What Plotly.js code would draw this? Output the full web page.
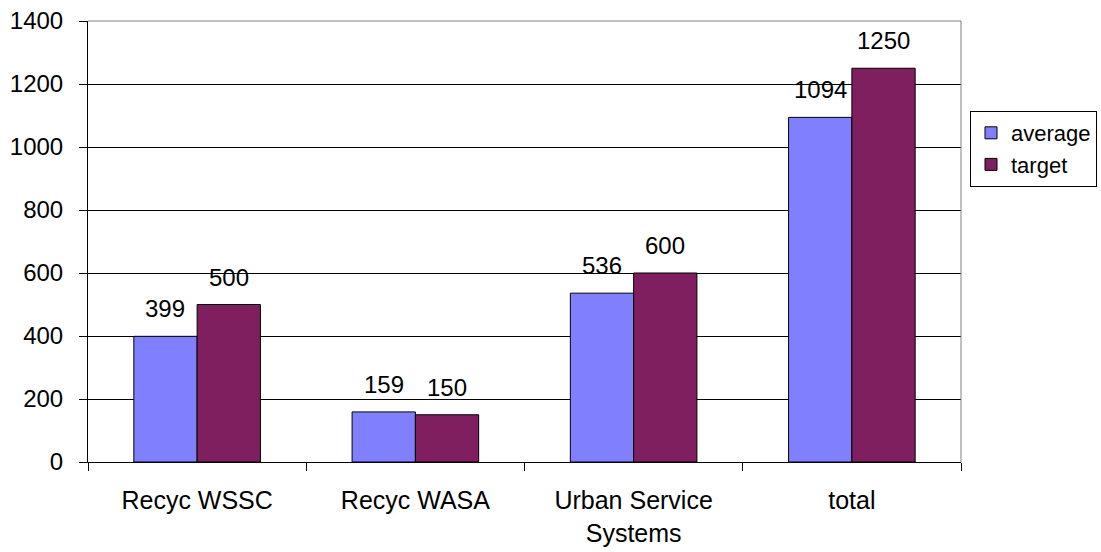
<!DOCTYPE html>
<html>
<head>
<meta charset="utf-8">
<script src="https://cdn.plot.ly/plotly-3.0.1.min.js"></script>
<style>html,body{margin:0;padding:0;background:#fff;}#chart{width:1101px;height:552px;}</style>
</head>
<body>
<div id="chart"></div>
<script>
const categories = ["Recyc WSSC", "Recyc WASA", "Urban Service<br>Systems", "total"];
const averageValues = [399, 159, 536, 1094];
const targetValues = [500, 150, 600, 1250];
const seriesNames = ["average", "target"];
const yTickValues = [0, 200, 400, 600, 800, 1000, 1200, 1400];

const FONT = "Liberation Sans, Arial, sans-serif";
const colors = ["#8080FF", "#7F1F5F"];

const traces = [averageValues, targetValues].map((vals, i) => ({
  type: "bar",
  name: seriesNames[i],
  x: categories,
  y: vals,
  marker: {color: colors[i], line: {color: "#000", width: 1}},
  hoverinfo: "none"
}));

const barShift = 31.75;
const annotations = [];
[averageValues, targetValues].forEach((vals, i) => {
  vals.forEach((v, j) => {
    annotations.push({
      x: categories[j], y: v, xref: "x", yref: "y",
      text: String(v), showarrow: false,
      xanchor: "center", yanchor: "bottom",
      xshift: i === 0 ? -barShift : barShift, yshift: 12,
      font: {family: FONT, size: 24, color: "#000"}
    });
  });
});

const layout = {
  width: 1101, height: 552,
  margin: {l: 88, r: 139.5, t: 21, b: 89.5},
  paper_bgcolor: "#fff", plot_bgcolor: "#fff",
  font: {family: FONT, size: 24, color: "#000"},
  barmode: "group",
  bargap: 0.42, bargroupgap: 0,
  showlegend: true,
  legend: {
    xref: "container", yref: "container",
    x: 970 / 1101, y: 1 - 111 / 552, xanchor: "left", yanchor: "top",
    bordercolor: "#000", borderwidth: 1, bgcolor: "#fff",
    font: {family: FONT, size: 22, color: "#000"},
    tracegroupgap: 0, itemwidth: 30
  },
  xaxis: {
    type: "category",
    tickson: "boundaries",
    ticks: "outside", ticklen: 8, tickcolor: "#000", tickwidth: 1,
    showline: true, linecolor: "#000", linewidth: 1,
    showgrid: false, zeroline: false,
    tickfont: {family: FONT, size: 25, color: "#000"},
    ticklabelstandoff: 16,
    automargin: false,
    fixedrange: true
  },
  yaxis: {
    range: [0, 1400],
    tickvals: yTickValues,
    ticktext: yTickValues.map(String),
    ticks: "outside", ticklen: 8, tickcolor: "#000", tickwidth: 1,
    showline: true, linecolor: "#000", linewidth: 1,
    showgrid: true, gridcolor: "#000", gridwidth: 1,
    zeroline: false,
    tickfont: {family: FONT, size: 24, color: "#000"},
    ticklabelstandoff: 11,
    automargin: false,
    fixedrange: true
  },
  shapes: [
    {type: "line", xref: "paper", yref: "paper", x0: 0, x1: 1, y0: 1, y1: 1, line: {color: "#808080", width: 1}},
    {type: "line", xref: "paper", yref: "paper", x0: 1, x1: 1, y0: 0, y1: 1, line: {color: "#808080", width: 1}}
  ],
  annotations: annotations
};

Plotly.newPlot("chart", traces, layout, {displayModeBar: false, staticPlot: true});
</script>
</body>
</html>
